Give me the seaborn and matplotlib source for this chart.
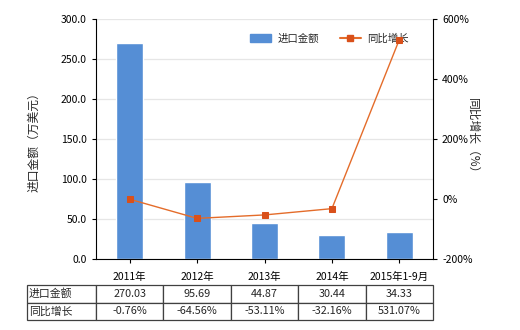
import matplotlib
matplotlib.use("Agg")
import matplotlib.pyplot as plt
import seaborn as sns
import numpy as np
import pandas as pd
from matplotlib.ticker import FuncFormatter, FixedLocator
from matplotlib.lines import Line2D
from matplotlib.patches import Patch

categories = ["2011年", "2012年", "2013年", "2014年", "2015年1-9月"]
import_values = [270.03, 95.69, 44.87, 30.44, 34.33]
growth_values = [-0.76, -64.56, -53.11, -32.16, 531.07]
value_labels = ["270.03", "95.69", "44.87", "30.44", "34.33"]
growth_labels = ["-0.76%", "-64.56%", "-53.11%", "-32.16%", "531.07%"]
row_labels = ["进口金额", "同比增长"]

sns.set_style("white")
plt.rcParams['font.family'] = ['Noto Sans CJK SC', 'DejaVu Sans']
plt.rcParams['axes.unicode_minus'] = False

bar_color = "#558ED5"
line_color = "#E46C2A"
marker_color = "#D9501A"
fs = 7.5

fig = plt.figure(figsize=(5.2, 3.3), dpi=100)
ax = fig.add_axes([96/520, 1-259/330, 337/520, 240/330])

df = pd.DataFrame({"cat": categories, "val": import_values, "g": growth_values})
sns.barplot(data=df, x="cat", y="val", color=bar_color, width=0.4, ax=ax,
            saturation=1, zorder=2)
ax.set_ylim(0, 300)
ax.set_xlim(-0.5, 4.5)
ax.yaxis.set_major_locator(FixedLocator([0, 50, 100, 150, 200, 250, 300]))
ax.yaxis.set_major_formatter(FuncFormatter(lambda v, p: f"{v:.1f}"))
ax.grid(axis="y", color="#E6E6E6", linewidth=0.9, zorder=0)
ax.set_axisbelow(True)
ax.set_xlabel("")
ax.set_ylabel("进口金额（万美元）", fontsize=8.5, labelpad=15)
for s in ["top", "right"]:
    ax.spines[s].set_visible(False)
ax.spines["left"].set_color("black")
ax.spines["bottom"].set_color("black")
ax.tick_params(axis="both", direction="out", length=3, width=0.8, labelsize=fs,
               colors="black", left=True, bottom=True)
ax.tick_params(axis="x", pad=6)

ax2 = ax.twinx()
sns.lineplot(data=df, x="cat", y="g", ax=ax2, color=line_color, linewidth=1.0,
             marker="s", markersize=5, markerfacecolor=marker_color,
             markeredgecolor=marker_color, sort=False, zorder=3)
ax2.set_ylim(-200, 600)
ax2.yaxis.set_major_locator(FixedLocator([-200, 0, 200, 400, 600]))
ax2.yaxis.set_major_formatter(FuncFormatter(lambda v, p: f"{v:.0f}%"))
ax2.set_ylabel("同比增长（%）", fontsize=8.5, rotation=270, labelpad=5)
ax2.set_xlabel("")
for s in ["top", "left", "bottom"]:
    ax2.spines[s].set_visible(False)
ax2.spines["right"].set_color("black")
ax2.tick_params(axis="y", direction="out", length=3, width=0.8, labelsize=fs,
                colors="black", right=True)
ax2.grid(False)

handles = [Patch(facecolor=bar_color, edgecolor=bar_color),
           Line2D([0], [0], color=line_color, linewidth=1.5, marker="s",
                  markersize=4, markerfacecolor=marker_color, markeredgecolor=marker_color)]
ax.legend(handles, ["进口金额", "同比增长"], loc="upper right", ncol=2,
          bbox_to_anchor=(0.955, 0.98), frameon=False, fontsize=fs,
          handlelength=2.0, handleheight=0.9, columnspacing=2.0, handletextpad=0.6)

cell_text = [[row_labels[0]] + value_labels, [row_labels[1]] + growth_labels]
x0 = (27 - 96) / 337
label_w = (96 - 27)
col_w = [label_w / 406] + [(337 / 5) / 406] * 5
tbl = ax.table(cellText=cell_text, cellLoc="center", colWidths=col_w,
               bbox=[x0, -(320-259)/240, 406/337, 35/240])
tbl.auto_set_font_size(False)
tbl.set_fontsize(7.8)
for (r, c), cell in tbl.get_celld().items():
    cell.set_edgecolor("#404040")
    cell.set_linewidth(0.9)
    if c == 0:
        cell.get_text().set_ha("left")
        cell.PAD = 0.03

fig.savefig("out.png", dpi=100)
